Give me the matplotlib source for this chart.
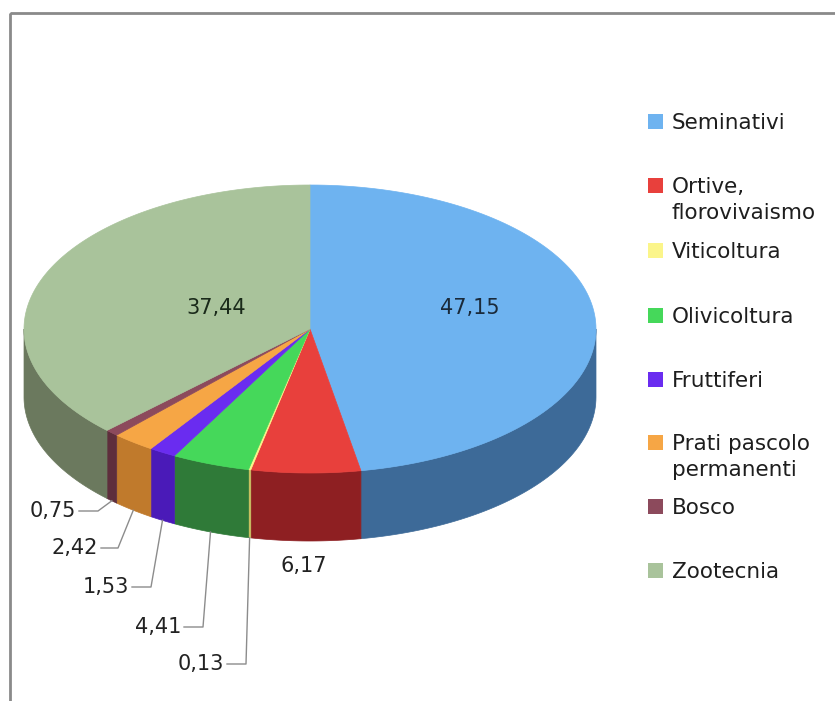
import numpy as np
import matplotlib.pyplot as plt
from matplotlib.patches import Polygon, Rectangle

# --- data ---
categories = ['Seminativi', 'Ortive,\nflorovivaismo', 'Viticoltura', 'Olivicoltura',
              'Fruttiferi', 'Prati pascolo\npermanenti', 'Bosco', 'Zootecnia']
values = [47.15, 6.17, 0.13, 4.41, 1.53, 2.42, 0.75, 37.44]
labels = ['47,15', '6,17', '0,13', '4,41', '1,53', '2,42', '0,75', '37,44']

top_colors = ['#6eb3f0', '#e8403c', '#fbf58a', '#45d85a', '#6a2cf0', '#f6a645', '#8c4a5c', '#a9c39b']
side_colors = ['#3d6a98', '#8e1f22', '#c8c060', '#2f7a38', '#4a1ab8', '#c07a2c', '#5e2e3c', '#6b795e']

# --- geometry (pixel space) ---
W, H = 835, 701
cx, cy = 310, 329
a, b = 286, 144
depth = 68

fig = plt.figure(figsize=(W / 100, H / 100), dpi=100)
ax = fig.add_axes([0, 0, 1, 1])
ax.set_xlim(0, W)
ax.set_ylim(H, 0)
ax.axis('off')

# frame
ax.add_patch(Rectangle((10, 13), 900, 800, fill=False, edgecolor='#8a8a8a', lw=2))


def pt(theta, dz=0):
    # theta in degrees, clockwise from 12 o'clock
    t = np.radians(theta)
    return cx + a * np.sin(t), cy - b * np.cos(t) + dz


fracs = np.array(values) / sum(values)
bounds = np.concatenate([[0], np.cumsum(fracs) * 360])

# side walls (only the front half is visible: 90..270 deg)
for i in range(len(values)):
    t0, t1 = max(bounds[i], 90), min(bounds[i + 1], 270)
    if t1 <= t0:
        continue
    ts = np.linspace(t0, t1, 60)
    upper = [pt(t) for t in ts]
    lower = [pt(t, depth) for t in ts[::-1]]
    ax.add_patch(Polygon(upper + lower, closed=True, facecolor=side_colors[i],
                         edgecolor=side_colors[i], lw=0.5))

# top faces
for i in range(len(values)):
    ts = np.linspace(bounds[i], bounds[i + 1], 120)
    poly = [(cx, cy)] + [pt(t) for t in ts]
    ax.add_patch(Polygon(poly, closed=True, facecolor=top_colors[i],
                         edgecolor=top_colors[i], lw=0.5))

# labels inside big slices
ax.text(470, 308, labels[0], fontsize=15, ha='center', va='center', color='#1a2a3a')
ax.text(216, 308, labels[7], fontsize=15, ha='center', va='center', color='#1a2a1a')
ax.text(304, 566, labels[1], fontsize=15, ha='center', va='center', color='#222222')

# leader-line labels for small slices: (index, text right end x, text y)
small = [(6, 76, 511), (5, 98, 548), (4, 129, 587), (3, 181, 627), (2, 224, 664)]
elbow_dx = [22, 20, 22, 22, 22]
for (i, tx, ty), dx in zip(small, elbow_dx):
    mid = (bounds[i] + bounds[i + 1]) / 2
    ax_, ay_ = pt(mid, depth)
    ex = tx + dx
    ax.plot([ax_, ex, tx + 3], [ay_, ty, ty], color='#8c8c8c', lw=1)
    ax.text(tx, ty, labels[i], fontsize=15, ha='right', va='center', color='#222222')

# legend
leg_y = [122, 186, 251, 316, 380, 443, 507, 571]
for i, (name, y) in enumerate(zip(categories, leg_y)):
    ax.add_patch(Rectangle((648, y - 8), 15, 15, facecolor=top_colors[i], edgecolor='none'))
    ax.text(672, y - 9, name, fontsize=15.5, ha='left', va='top', color='#1e1e1e',
            linespacing=1.35)

fig.savefig('out.png', dpi=100, facecolor='white')
plt.close(fig)
